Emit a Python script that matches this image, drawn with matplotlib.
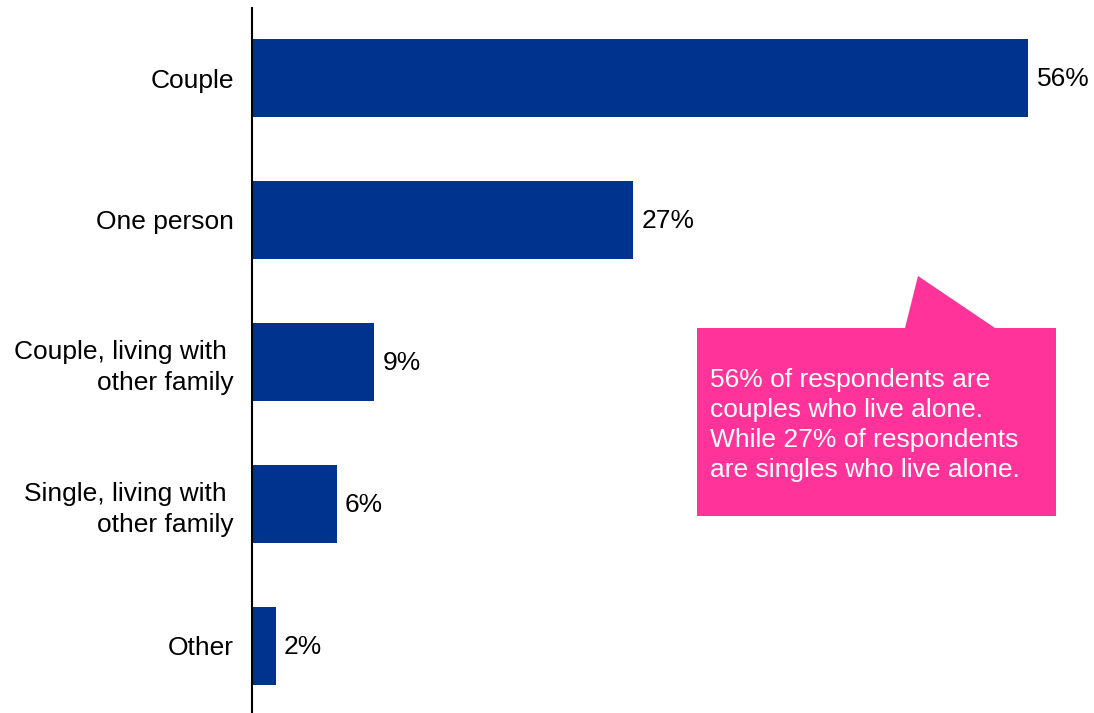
"""
Household composition of respondents - horizontal bar chart with callout.
"""

import matplotlib
matplotlib.use("Agg")
import matplotlib.pyplot as plt
from matplotlib.patches import Polygon

plt.rcParams["font.family"] = ["Liberation Sans", "DejaVu Sans"]

categories = [
    "Couple",
    "One person",
    "Couple, living with \nother family",
    "Single, living with \nother family",
    "Other",
]
values = [56.0, 27.5, 8.8, 6.1, 1.7]
value_labels = ["56%", "27%", "9%", "6%", "2%"]

callout_text = (
    "56% of respondents are\n"
    "couples who live alone.\n"
    "While 27% of respondents\n"
    "are singles who live alone."
)

BAR_COLOR = "#00338D"
PINK = "#FF3399"
FS = 19

W, H = 1094, 713
fig = plt.figure(figsize=(W / 100, H / 100), dpi=100)

ax = fig.add_axes([252 / W, 0, (W - 252) / W, (H - 8) / H])
y = list(range(len(categories)))
ax.barh(y, values, height=0.545, color=BAR_COLOR)
ax.set_xlim(0, (W - 252) / 13.86)
ax.set_ylim(4.472, -0.493)

for yi, v, lab in zip(y, values, value_labels):
    ax.annotate(lab, (v, yi), xytext=(6, -1), textcoords="offset points",
                va="center", ha="left", fontsize=FS, color="black")

ax.set_yticks(y)
ax.set_yticklabels(categories, fontsize=FS, linespacing=1.33)
ax.tick_params(axis="y", length=0, pad=13)
ax.set_xticks([])
for side in ["top", "right", "bottom"]:
    ax.spines[side].set_visible(False)
ax.spines["left"].set_linewidth(1.5)
ax.spines["left"].set_color("black")

# callout box drawn in pixel space on an overlay axes
ov = fig.add_axes([0, 0, 1, 1], facecolor="none")
ov.set_xlim(0, W)
ov.set_ylim(H, 0)
ov.axis("off")
box = Polygon(
    [(697, 328), (905, 328), (918, 276), (995, 328), (1056, 328),
     (1056, 516), (697, 516)],
    closed=True, facecolor=PINK, edgecolor="none",
)
ov.add_patch(box)
ov.text(710, 425, callout_text, color="white", fontsize=FS,
        va="center", ha="left", linespacing=1.33)

fig.savefig("out.png", dpi=100)
